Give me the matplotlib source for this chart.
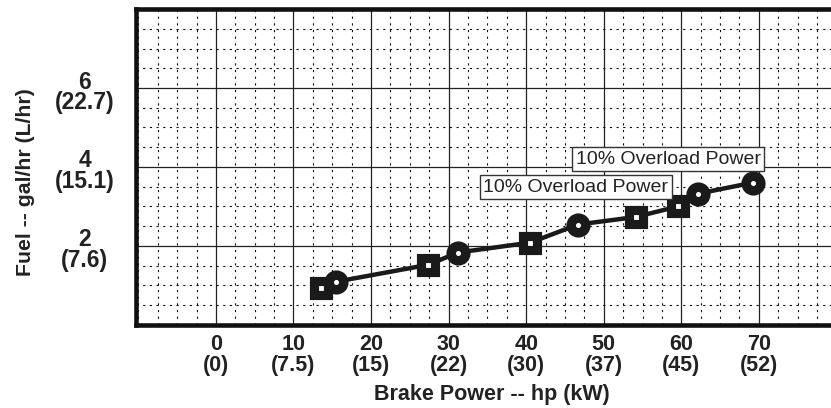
import matplotlib
matplotlib.use("Agg")
import matplotlib.pyplot as plt
from matplotlib.ticker import MultipleLocator
from matplotlib.transforms import ScaledTranslation

# === Data ===
hp_ticks = [0, 10, 20, 30, 40, 50, 60, 70]
hp_labels = ["0\n(0)", "10\n(7.5)", "20\n(15)", "30\n(22)", "40\n(30)",
             "50\n(37)", "60\n(45)", "70\n(52)"]
fuel_ticks = [2, 4, 6]
fuel_labels = ["2\n(7.6)", "4\n(15.1)", "6\n(22.7)"]

# square series
sq_hp = [13.6, 27.4, 40.5, 54.1, 59.6]
sq_fuel = [0.93, 1.52, 2.08, 2.73, 3.00]
# circle series
ci_hp = [15.5, 31.2, 46.7, 62.1, 69.2]
ci_fuel = [1.09, 1.83, 2.54, 3.32, 3.60]

note_text = "10% Overload Power"

plt.rcParams["font.family"] = ["Liberation Sans", "DejaVu Sans"]

# === Plotting ===
fig = plt.figure(figsize=(8.31, 4.08), dpi=100)
ax = fig.add_axes([0.1637, 0.2042, 0.8363, 0.7733])

ax.set_xlim(-10.3, 79.3)
ax.set_ylim(0, 8)

ax.set_xticks(hp_ticks)
ax.set_xticklabels(hp_labels, fontsize=15.5, fontweight="bold", color="#222222")
ax.set_yticks(fuel_ticks)
ax.set_yticklabels(fuel_labels, fontsize=16.5, fontweight="bold", color="#222222", ha="center")

ax.xaxis.set_minor_locator(MultipleLocator(2.5))
ax.yaxis.set_minor_locator(MultipleLocator(0.5))
ax.tick_params(which="both", length=0)
ax.tick_params(axis="x", pad=7)
ax.tick_params(axis="y", pad=37)

for lbl in ax.get_xticklabels():
    lbl.set_linespacing(0.98)
shift_down = ScaledTranslation(0, -0.03, fig.dpi_scale_trans)
for lbl in ax.get_yticklabels():
    lbl.set_linespacing(0.88)
    lbl.set_multialignment("center")
    lbl.set_transform(lbl.get_transform() + shift_down)

ax.set_axisbelow(True)
ax.grid(which="major", color="#222222", linewidth=0.9, linestyle="-")
ax.grid(which="minor", color="#111111", linewidth=0.8, linestyle=(0, (2, 4)))

for side in ["left", "bottom", "top"]:
    ax.spines[side].set_linewidth(3.3)
    ax.spines[side].set_color("#111111")
ax.spines["right"].set_visible(False)

# connecting line through all points in order of power
pts = sorted(zip(sq_hp + ci_hp, sq_fuel + ci_fuel))
ax.plot([p[0] for p in pts], [p[1] for p in pts], color="#1a1a1a", linewidth=3.2, zorder=3)

ax.plot(sq_hp, sq_fuel, linestyle="none", marker="s", markersize=10.0,
        markerfacecolor="white", markeredgecolor="#1a1a1a", markeredgewidth=6.6, zorder=4)
ax.plot(ci_hp, ci_fuel, linestyle="none", marker="o", markersize=10.6,
        markerfacecolor="white", markeredgecolor="#1a1a1a", markeredgewidth=6.8, zorder=4)

box = dict(boxstyle="square,pad=0.18", facecolor="white", edgecolor="#333333", linewidth=1)
ax.text(58.3, 4.19, note_text, fontsize=14, ha="center", va="center", color="#222222",
        bbox=box, zorder=5)
ax.text(46.4, 3.48, note_text, fontsize=14, ha="center", va="center", color="#222222",
        bbox=box, zorder=5)

ax.set_xlabel("Brake Power -- hp (kW)", fontsize=15.5, fontweight="bold", color="#222222", va="center")
ax.set_ylabel("Fuel -- gal/hr (L/hr)", fontsize=15.3, fontweight="bold", color="#222222", va="center")
ax.xaxis.set_label_coords(0.512, -0.22)
ax.yaxis.set_label_coords(-0.159, 0.451)

fig.savefig("out.png", dpi=100)
